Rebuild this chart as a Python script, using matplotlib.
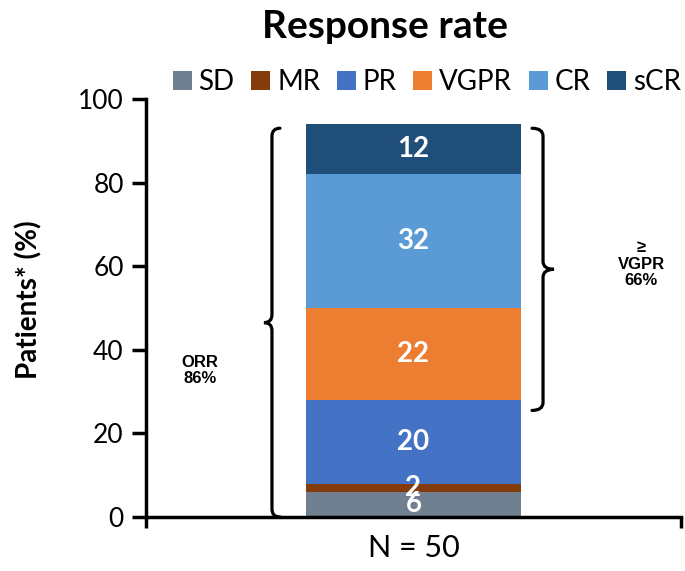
import numpy as np
import matplotlib
matplotlib.use('Agg')
import matplotlib.pyplot as plt
from matplotlib.path import Path
from matplotlib.patches import PathPatch, Patch

# data
categories = ['SD', 'MR', 'PR', 'VGPR', 'CR', 'sCR']
values = [6, 2, 20, 22, 32, 12]
colors = ['#708090', '#843C0C', '#4472C4', '#ED7D31', '#5B9BD5', '#1F4E79']
group_label = 'N = 50'
y_ticks = [0, 20, 40, 60, 80, 100]

plt.rcParams['font.family'] = ['Lato', 'DejaVu Sans']

fig = plt.figure(figsize=(6.85, 5.71), dpi=100)
ax = fig.add_axes([146/685, 1-517/571, 535/685, 418/571])

bar_w = 0.402
bottom = 0
for cat, val, col in zip(categories, values, colors):
    ax.bar(0, val, width=bar_w, bottom=bottom, color=col, label=cat)
    ax.text(0, bottom + val/2, str(val), ha='center', va='center',
            color='white', fontsize=20, fontweight='bold')
    bottom += val

ax.set_xlim(-0.5, 0.5)
ax.set_ylim(0, 100)
ax.set_yticks(y_ticks)
ax.tick_params(axis='y', direction='out', length=10, width=2.5, labelsize=19, pad=6)
ax.set_xticks([-0.5, 0.5])
ax.set_xticklabels(['', ''])
ax.tick_params(axis='x', which='major', direction='out', length=8, width=2.5)
ax.set_xticks([0], minor=True)
ax.set_xticklabels([group_label], minor=True)
ax.tick_params(axis='x', which='minor', length=0, labelsize=22, pad=12)
for s in ['top', 'right']:
    ax.spines[s].set_visible(False)
for s in ['left', 'bottom']:
    ax.spines[s].set_linewidth(2.5)

ax.set_ylabel('Patients* (%)', fontsize=20, fontweight='bold')
ax.yaxis.set_label_coords(-0.194, 0.52)


def brace(ax, x, y0, y1, w, r, side):
    # side=+1: opens right (left brace), -1: opens left (right brace)
    mid = (y0 + y1) / 2
    xo = x + side * w
    xp = x - side * w
    verts = [(xo, y1), (x, y1), (x, y1 - r),
             (x, mid + r), (x, mid), (xp, mid),
             (x, mid), (x, mid - r),
             (x, y0 + r), (x, y0), (xo, y0)]
    codes = [Path.MOVETO, Path.CURVE3, Path.CURVE3,
             Path.LINETO, Path.CURVE3, Path.CURVE3,
             Path.CURVE3, Path.CURVE3,
             Path.LINETO, Path.CURVE3, Path.CURVE3]
    ax.add_patch(PathPatch(Path(verts, codes), fill=False, lw=2.3,
                           edgecolor='black', clip_on=False, capstyle='round'))


total = sum(values)
vgpr_base = sum(values[:3])
px = 1/535
py = 100/418
brace(ax, -bar_w/2 - 34*px, 0, total - 1, 8*px, 8*py, +1)
brace(ax, bar_w/2 + 22*px, vgpr_base - 2.5, total - 1, 11*px, 8*py, -1)

orr = sum(values[2:])
vg = sum(values[3:])
ax.text(-bar_w/2 - 106*px, total/2 - 12, f'ORR\n{orr}%', ha='center', va='center',
        fontsize=12, fontweight='bold', family='Liberation Sans', linespacing=1.1)
ax.text(bar_w/2 + 120*px, (vgpr_base + total)/2 - 0.5, f'\u2265\nVGPR\n{vg}%', ha='center',
        va='center', fontsize=12, fontweight='bold', family='Liberation Sans', linespacing=1.1)

fig.text(385/685, 1-27/571, 'Response rate', ha='center', va='center',
         fontsize=28, fontweight='bold')

handles = [Patch(facecolor=c, label=l) for l, c in zip(categories, colors)]
fig.legend(handles=handles, loc='center', bbox_to_anchor=(427/685, 1-82/571), ncol=6,
           frameon=False, fontsize=20, handlelength=0.68, handleheight=0.68,
           handletextpad=0.25, columnspacing=0.6, borderpad=0)

fig.savefig('out.png', dpi=100)
